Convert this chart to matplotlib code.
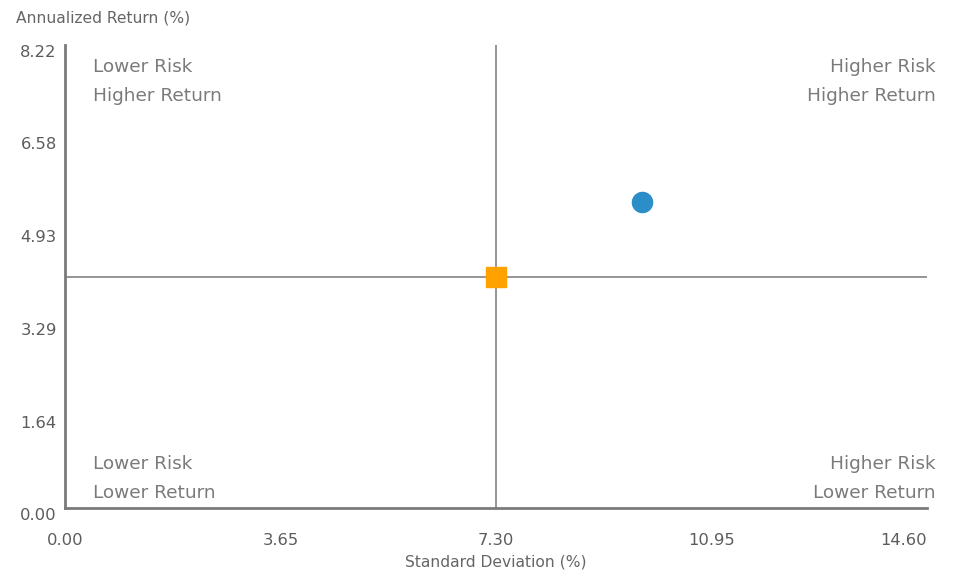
import matplotlib.pyplot as plt

# valores
x_ticks = [0.00, 3.65, 7.30, 10.95, 14.60]
y_ticks = [0.00, 1.64, 3.29, 4.93, 6.58, 8.22]
x_mid = 7.30
y_mid = 4.11

pontos_x = [9.78, 7.30]
pontos_y = [5.43, 4.11]
marcadores = ['o', 's']
cores = ['#2b8ec8', '#ffa200']

quadrantes = [
    ('Lower Risk\nHigher Return', 'left', 'top'),
    ('Higher Risk\nHigher Return', 'right', 'top'),
    ('Lower Risk\nLower Return', 'left', 'bottom'),
    ('Higher Risk\nLower Return', 'right', 'bottom'),
]

plt.rcParams['font.family'] = ['DejaVu Sans']

fig = plt.figure(figsize=(9.61, 5.72), dpi=100)
ax = fig.add_axes([0.0676, 0.1119, 0.8970, 0.8094])

ax.set_xlim(x_ticks[0], x_ticks[-1])
ax.set_ylim(y_ticks[0], y_ticks[-1])

# linhas dos quadrantes
ax.axvline(x_mid, color='#8c8c8c', lw=1.3, zorder=1)
ax.axhline(y_mid, color='#8c8c8c', lw=1.3, zorder=1)

for px, py, m, c in zip(pontos_x, pontos_y, marcadores, cores):
    ax.plot(px, py, marker=m, color=c, markersize=14.5, linestyle='none', zorder=3)

for texto, ha, va in quadrantes:
    xx = 0.032 if ha == 'left' else 1.01
    yy = 0.972 if va == 'top' else 0.013
    ax.text(xx, yy, texto, transform=ax.transAxes, ha=ha, va=va,
            fontsize=13.3, color='#7a7a7a', linespacing=1.8, clip_on=False)

for s in ['top', 'right']:
    ax.spines[s].set_visible(False)
for s in ['left', 'bottom']:
    ax.spines[s].set_color('#7a7a7a')
    ax.spines[s].set_linewidth(2)

ax.set_xticks(x_ticks)
ax.set_xticklabels(['%.2f' % v for v in x_ticks])
ax.set_yticks(y_ticks)
ax.set_yticklabels(['%.2f' % v for v in y_ticks])
ax.tick_params(length=0, labelsize=11.8, labelcolor='#5c5c5c')
ax.tick_params(axis='x', pad=18)
ax.tick_params(axis='y', pad=6)
ax.get_xticklabels()[-1].set_horizontalalignment('right')
for lbl in ax.get_yticklabels():
    lbl.set_verticalalignment('top')

fig.text(0.017, 0.968, 'Annualized Return (%)', ha='left', va='center',
         fontsize=11.2, color='#666666')
ax.set_xlabel('Standard Deviation (%)', fontsize=11.2, color='#666666', labelpad=5)

plt.savefig('out.png', dpi=100)
